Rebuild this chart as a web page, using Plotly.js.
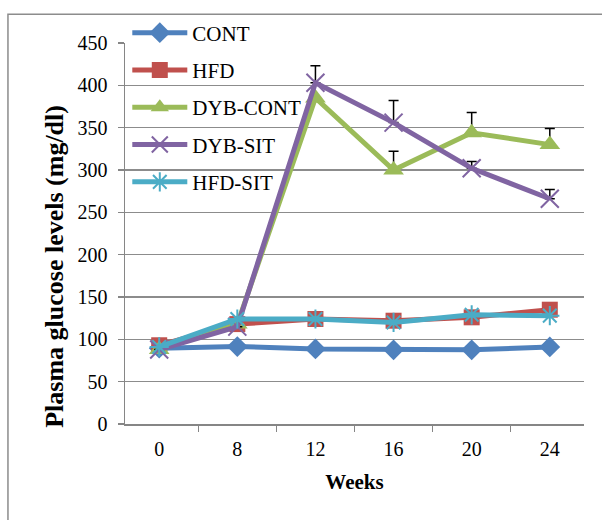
<!DOCTYPE html>
<html>
<head>
<meta charset="utf-8">
<script src="https://cdn.plot.ly/plotly-3.0.1.min.js"></script>
<style>
  html, body { margin: 0; padding: 0; background: #ffffff; }
  #chart { width: 602px; height: 520px; }
</style>
</head>
<body>
<div id="chart"></div>
<script>
// ---- data ----
const weeks = ["0", "8", "12", "16", "20", "24"];
const seriesNames = ["CONT", "HFD", "DYB-CONT", "DYB-SIT", "HFD-SIT"];
const contValues    = [89.5, 91.5, 88.7, 87.6, 87.6, 91];
const hfdValues     = [93, 118, 124, 122, 126, 135];
const dybContValues = [88, 118, 385, 300, 344, 330];
const dybSitValues  = [88, 115, 403, 356, 302, 266];
const hfdSitValues  = [91, 124, 124, 120, 129, 128];
const dybContErr    = [0, 0, 0, 22, 24, 19];
const dybSitErr     = [0, 0, 20, 26, 8, 11];
const xTitle = 'Weeks';
const yTitle = 'Plasma glucose levels (mg/dl)';

const serif = '"Liberation Serif", "Times New Roman", Times, serif';

function mk(name, y, color, symbol, size, lineW, err) {
  const t = {
    type: 'scatter', mode: 'lines+markers', name: name, legendgroup: name,
    x: weeks, y: y,
    line: { color: color, width: 5 },
    marker: { symbol: symbol, size: size, color: color, line: { color: color, width: lineW } }
  };
  if (err) {
    t.error_y = { type: 'data', array: err, arrayminus: err.map(() => 0), symmetric: false,
                  color: '#000000', thickness: 1.5, width: 5 };
  }
  return t;
}

const traces = [
  mk(seriesNames[0], contValues, '#4F81BD', 'diamond', 16, 0),
  mk(seriesNames[1], hfdValues, '#C0504D', 'square', 16, 0),
  mk(seriesNames[2], dybContValues, '#9BBB59', 'triangle-up', 18, 0, dybContErr),
  mk(seriesNames[3], dybSitValues, '#8064A2', 'x-thin-open', 18, 2, dybSitErr),
  mk(seriesNames[4], hfdSitValues, '#4BACC6', 'asterisk-open', 16, 2)
];

const layout = {
  width: 602, height: 520,
  margin: { l: 125, r: 18, t: 41, b: 96 },
  paper_bgcolor: '#ffffff', plot_bgcolor: '#ffffff',
  font: { family: serif, size: 20, color: '#000000' },
  showlegend: true,
  legend: {
    x: 0.005, y: 1.08, xanchor: 'left', yanchor: 'top',
    bgcolor: 'rgba(0,0,0,0)', itemwidth: 55, tracegroupgap: 7,
    font: { family: serif, size: 21, color: '#000000' }
  },
  xaxis: {
    type: 'category',
    title: { text: '<b>' + xTitle + '</b>', font: { family: serif, size: 21 }, standoff: 16 },
    showgrid: false, zeroline: false,
    showline: true, linecolor: '#868686', linewidth: 1.5,
    ticks: 'outside', tickson: 'boundaries', ticklen: 6, tickcolor: '#868686', tickwidth: 1.5,
    ticklabelstandoff: 6,
    tickfont: { family: serif, size: 20 }, fixedrange: true
  },
  yaxis: {
    range: [0, 450], dtick: 50,
    showgrid: true, gridcolor: '#8c8c8c', gridwidth: 1.5, zeroline: false,
    showline: true, linecolor: '#868686', linewidth: 1.5,
    ticks: 'outside', ticklen: 6, tickcolor: '#868686', tickwidth: 1.5,
    ticklabelstandoff: 6,
    tickfont: { family: serif, size: 20 }, fixedrange: true
  },
  annotations: [{
    xref: 'paper', yref: 'paper', x: -0.1525, y: 0.4125,
    text: '<b>' + yTitle + '</b>', textangle: -90, showarrow: false,
    xanchor: 'center', yanchor: 'middle',
    font: { family: serif, size: 26, color: '#000000' }
  }],
  shapes: [{
    type: 'path', xref: 'paper', yref: 'paper',
    path: 'M 1.1,1.0757 L -0.255,1.0757 L -0.255,-0.35',
    line: { color: '#8c8c8c', width: 1.5 }
  }]
};

Plotly.newPlot('chart', traces, layout, { displayModeBar: false, staticPlot: true });
</script>
</body>
</html>
